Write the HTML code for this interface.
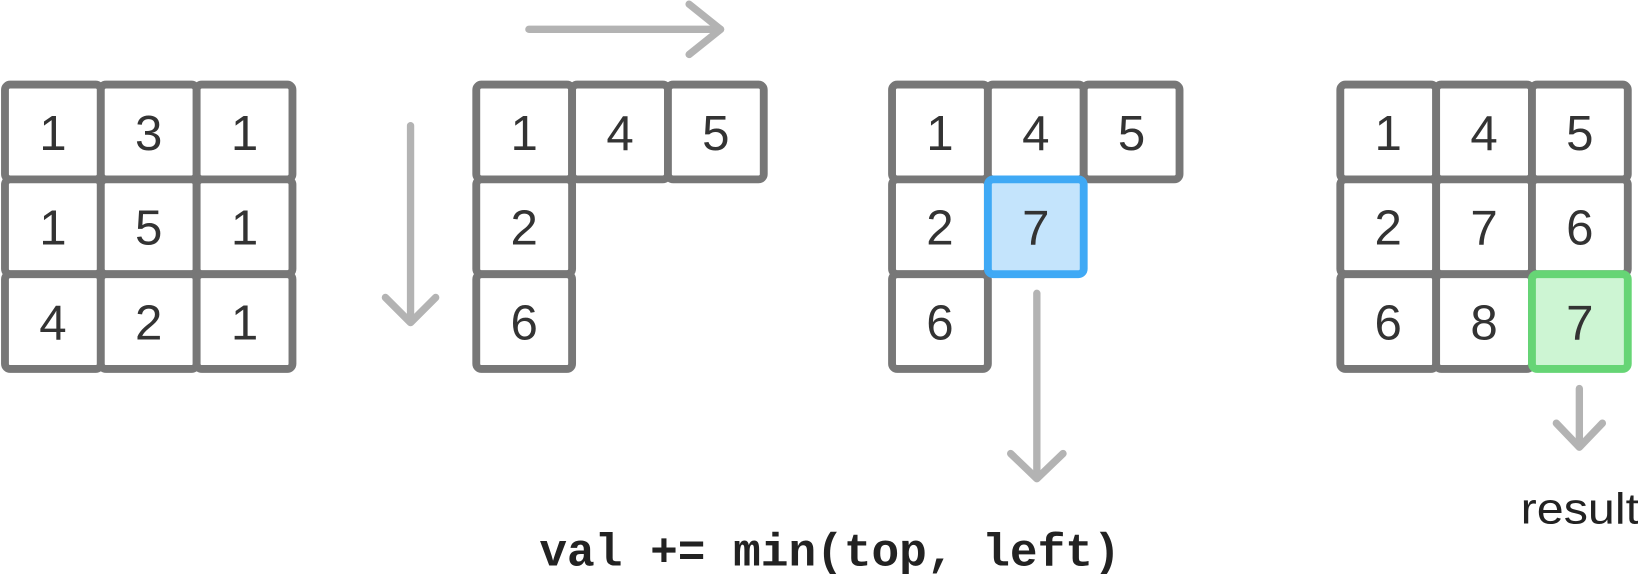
<!DOCTYPE html>
<html><head><meta charset="utf-8"><style>
html,body{margin:0;padding:0;background:#fff;width:1638px;height:574px;overflow:hidden}
svg text{font-family:"Liberation Sans",sans-serif}
</style></head><body>
<svg id="d" width="1638" height="574" viewBox="0 0 1564 548" preserveAspectRatio="none" xmlns="http://www.w3.org/2000/svg">
<g id="arrows" stroke="#b3b3b3" stroke-width="7" stroke-linecap="round" fill="none" stroke-linejoin="round">
  <g><line x1="505" y1="28" x2="688" y2="28"/><polyline points="658,4 688,28 658,52"/></g>
  <g><line x1="392" y1="120" x2="392" y2="306"/><polyline points="368,284 392,308 416,284"/></g>
  <g><line x1="990" y1="280" x2="990" y2="456"/><polyline points="965,433 990,457 1015,433"/></g>
  <g><line x1="1508" y1="371" x2="1508" y2="426"/><polyline points="1486,404 1508,427 1530,404"/></g>
</g>
<g id="grids"></g>
<text x="1452" y="500" font-size="42" fill="#222" textLength="113" lengthAdjust="spacingAndGlyphs">result</text>
<text x="515" y="540" font-size="44" font-weight="bold" fill="#222" textLength="555" lengthAdjust="spacingAndGlyphs" style="font-family:'Liberation Mono',monospace">val += min(top, left)</text>
</svg>
<script>
const grid1 = [[1,3,1],[1,5,1],[4,2,1]];
const grid2 = [[1,4,5],[2,null,null],[6,null,null]];
const grid3 = [[1,4,5],[2,7,null],[6,null,null]];
const grid4 = [[1,4,5],[2,7,6],[6,8,7]];
const grids = [grid1,grid2,grid3,grid4];
const gridX = [1,451,848,1276];
const highlights = [null,null,{r:1,c:1,stroke:'#3fa9f5',fill:'#c4e4fc'},{r:2,c:2,stroke:'#66d575',fill:'#cdf5d3'}];
const NS='http://www.w3.org/2000/svg';
const g=document.getElementById('grids');
const pitchX=91.5, pitchY=90.5, top0=77, sw=7.5;
grids.forEach((gr,gi)=>{
  const grp=document.createElementNS(NS,'g');
  
  
  g.appendChild(grp);
  const hl=highlights[gi];
  const draw=(r,c,v,stroke,fill)=>{
    const x=gridX[gi]+c*pitchX, y=top0+r*pitchY;
    const rect=document.createElementNS(NS,'rect');
    rect.setAttribute('x',x+sw/2);rect.setAttribute('y',y+sw/2);
    rect.setAttribute('width',pitchX);rect.setAttribute('height',pitchY);
    rect.setAttribute('rx',5);rect.setAttribute('fill',fill);rect.setAttribute('stroke',stroke||'#777');
    rect.setAttribute('stroke-width',sw);
    
    
    grp.appendChild(rect);
    const t=document.createElementNS(NS,'text');
    t.setAttribute('x',x+sw/2+pitchX/2);t.setAttribute('y',y+sw/2+pitchY/2+17);
    t.setAttribute('text-anchor','middle');t.setAttribute('font-size','47');t.setAttribute('fill','#333');
    t.textContent=v;
    
    
    grp.appendChild(t);
  };
  gr.forEach((row,r)=>row.forEach((v,c)=>{
    if(v===null) return;
    if(hl&&hl.r===r&&hl.c===c) return;
    draw(r,c,v,null,'#fff');
  }));
  if(hl) draw(hl.r,hl.c,gr[hl.r][hl.c],hl.stroke,hl.fill);
});
</script>
</body></html>
